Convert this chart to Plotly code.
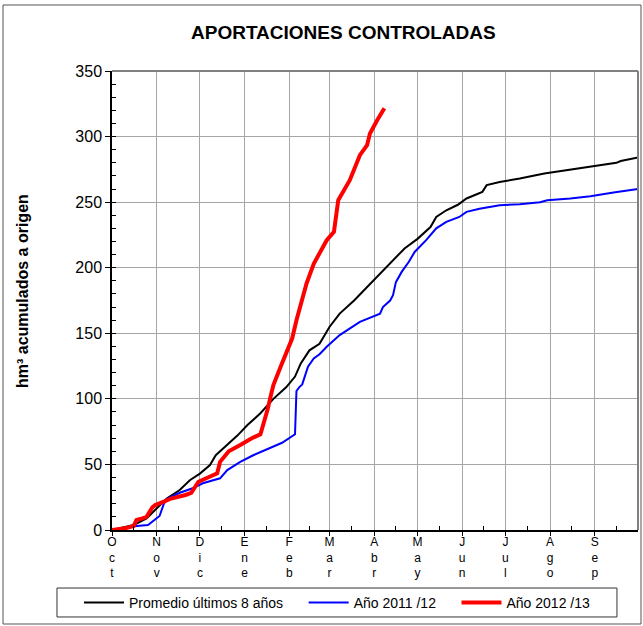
import plotly.graph_objects as go

# Days since 1 October and accumulated hm3
prom_days = [0, 15, 24, 31, 38, 47, 54, 61, 68, 72, 80, 87, 94, 103, 112, 121, 127, 131, 137, 144, 151, 158, 168, 186, 195, 203, 212, 221, 225, 232, 240, 246, 257, 260, 269, 283, 300, 330, 350, 353, 365]
prom_vals = [0, 3.8, 8.9, 16.5, 24, 30.5, 38, 43, 49.5, 57, 65, 72, 80, 89, 100, 109, 117, 127, 137, 142, 155, 165, 175, 195.6, 205.7, 214.7, 222, 231, 238.7, 243.8, 248, 252.8, 257.8, 263, 265.4, 268, 271.8, 276.9, 280, 281.4, 284]

y1112_days = [0, 17, 25, 29, 33, 36, 38, 47, 56, 63, 75, 80, 89, 98, 107, 118, 127, 128, 130, 132, 136, 140, 144, 149, 158, 172, 186, 188, 193, 195, 197, 201, 206, 210, 218, 225, 232, 241, 246, 255, 269, 283, 297, 302, 318, 332, 348, 365]
y1112_vals = [0, 3, 3.8, 7.6, 10.7, 20, 23.6, 28.4, 31.8, 35.6, 39.4, 45.7, 52, 57, 61.5, 66.5, 73, 106, 109, 111, 124.5, 130.8, 134, 139.7, 148.6, 158.7, 165, 170, 175, 179, 189, 196.8, 204.5, 212, 221, 230, 235, 238.7, 242.6, 245, 247.7, 248.4, 250, 251.5, 252.8, 254.5, 257.3, 260]

y1213_days = [0, 9, 15, 17, 21, 24, 28, 30, 36, 41, 51, 55, 60, 65, 73, 75, 81, 89, 97, 103, 106, 108, 110, 112, 117, 121, 125, 128, 132, 135, 140, 149, 154, 157, 165, 172, 177, 179, 184, 188, 189]
y1213_vals = [0, 1.3, 3, 7.6, 8.9, 10, 17.3, 19, 21.6, 24, 26.7, 28.4, 36.8, 39.4, 43.2, 52, 60, 64.8, 70, 73, 83.8, 92, 101.6, 110.5, 124.4, 134.6, 146, 160, 175, 188, 203, 221, 227.3, 251.5, 266.7, 285.8, 293.4, 302.3, 312.4, 320, 321.6]

month_starts = [0, 31, 61, 92, 123, 151, 182, 212, 243, 273, 304, 335]
month_labels = ["Oct", "Nov", "Dic", "Ene", "Feb", "Mar", "Abr", "May", "Jun", "Jul", "Ago", "Sep"]
mid_months = [15, 46, 76, 107, 137, 166, 197, 227, 258, 288, 319, 350, 365]

series_names = ["Promedio últimos 8 años", "Año 2011 /12", "Año 2012 /13"]
pad = "\u00a0" * 4

fig = go.Figure()
fig.add_trace(go.Scatter(x=prom_days, y=prom_vals, mode="lines", name=series_names[0] + pad,
                         line=dict(color="#000000", width=2)))
fig.add_trace(go.Scatter(x=y1112_days, y=y1112_vals, mode="lines", name=series_names[1] + pad,
                         line=dict(color="#0000ff", width=2)))
fig.add_trace(go.Scatter(x=y1213_days, y=y1213_vals, mode="lines", name=series_names[2],
                         line=dict(color="#ff0000", width=4)))

ticktext = ["<br>".join(list(m)) for m in month_labels]

fig.update_layout(
    width=643, height=626,
    margin=dict(l=112, r=5, t=71, b=96, autoexpand=False),
    paper_bgcolor="white", plot_bgcolor="white",
    font=dict(family="Liberation Sans, Arial, sans-serif", color="black"),
    title=dict(text="<b>APORTACIONES CONTROLADAS</b>", x=0.534, xanchor="center", y=0.949, yanchor="middle",
               font=dict(size=19, color="black")),
    showlegend=True,
    legend=dict(orientation="h", x=-0.0627, y=-0.124, xanchor="left", yanchor="top",
                borderwidth=0, bgcolor="rgba(0,0,0,0)", font=dict(size=14),
                itemwidth=40, tracegroupgap=0),
    xaxis=dict(range=[0, 365], tickmode="array", tickvals=month_starts, ticktext=ticktext,
               showgrid=True, gridcolor="#a6a6a6", gridwidth=1,
               showline=True, linecolor="black", linewidth=1.5,
               ticks="outside", ticklen=4, tickcolor="black",
               tickfont=dict(size=12), zeroline=False, ticklabelstandoff=-4,
               minor=dict(tickvals=mid_months, ticks="inside", ticklen=4, tickcolor="black", showgrid=False)),
    yaxis=dict(range=[0, 350], tickmode="linear", tick0=0, dtick=50,
               showgrid=True, gridcolor="#a6a6a6", gridwidth=1,
               showline=True, linecolor="black", linewidth=1.5,
               ticks="outside", ticklen=5, tickcolor="black",
               tickfont=dict(size=16), zeroline=False,
               minor=dict(dtick=10, ticks="inside", ticklen=4, tickcolor="black", showgrid=False)),
    annotations=[
        dict(text="<b>hm³ acumulados a origen</b>", textangle=-90, xref="paper", yref="paper",
             x=(22 - 112) / 526, y=(530 - 291) / 459, xanchor="center", yanchor="middle",
             showarrow=False, font=dict(size=16, color="black")),
    ],
    shapes=[
        dict(type="line", xref="paper", yref="paper", x0=0, x1=1, y0=1, y1=1,
             line=dict(color="#808080", width=2)),
        dict(type="line", xref="paper", yref="paper", x0=1, x1=1, y0=0, y1=1,
             line=dict(color="#808080", width=2)),
        dict(type="rect", xref="paper", yref="paper", x0=-0.2072, x1=1.0057, y0=-0.2048, y1=1.1438,
             line=dict(color="#555555", width=1)),
        dict(type="rect", xref="paper", yref="paper", x0=-0.1046, x1=0.960, y0=-0.1895, y1=-0.1264,
             line=dict(color="#333333", width=1)),
    ],
)

fig.write_html("out.html", config={"displayModeBar": False},
               post_script="document.body.style.margin='0';")
